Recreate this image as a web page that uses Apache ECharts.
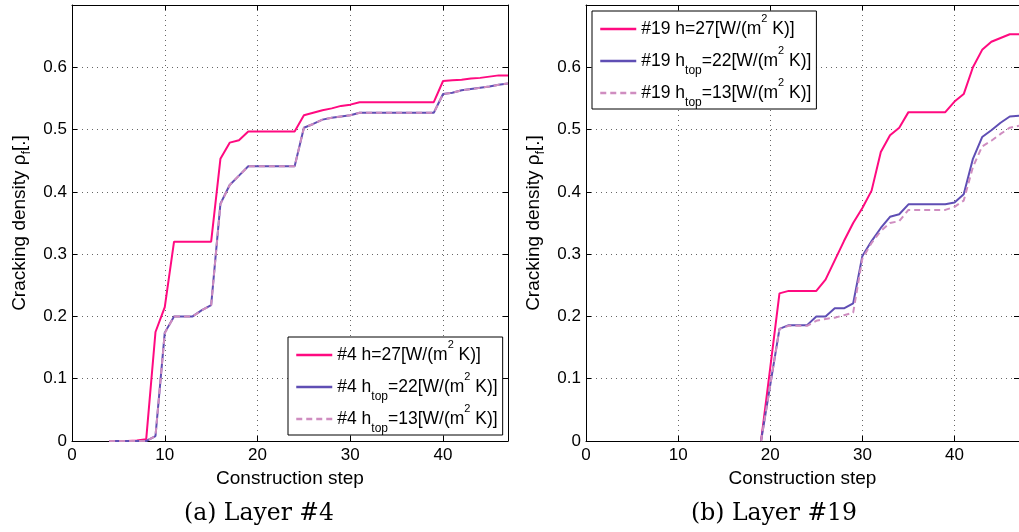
<!DOCTYPE html>
<html><head><meta charset="utf-8">
<script src="https://cdn.jsdelivr.net/npm/echarts@6/dist/echarts.min.js"></script>
<style>html,body{margin:0;padding:0;background:#fff}#c{width:1019px;height:532px}</style>
</head><body><div id="c"></div>
<script>
// ---- data ----
const stepsL = [4,5,6,7,8,9,10,11,12,13,14,15,16,17,18,19,20,21,22,23,24,25,26,27,28,29,30,31,32,33,34,35,36,37,38,39,40,41,42,43,44,45,46,47];
const L_h27 = [0,0,0,0.001,0.003,0.175,0.215,0.32,0.32,0.32,0.32,0.32,0.453,0.479,0.483,0.497,0.497,0.497,0.497,0.497,0.497,0.523,0.527,0.531,0.534,0.538,0.540,0.544,0.544,0.544,0.544,0.544,0.544,0.544,0.544,0.544,0.578,0.579,0.580,0.582,0.583,0.585,0.587,0.587];
const L_htop22 = [0,0,0,0,0,0.008,0.174,0.2,0.2,0.2,0.21,0.218,0.381,0.411,0.426,0.441,0.441,0.441,0.441,0.441,0.441,0.503,0.509,0.516,0.519,0.521,0.523,0.527,0.527,0.527,0.527,0.527,0.527,0.527,0.527,0.527,0.557,0.559,0.563,0.565,0.567,0.569,0.572,0.574];
const L_htop13 = [0,0,0,0,0,0.008,0.173,0.2,0.2,0.2,0.21,0.218,0.380,0.411,0.426,0.441,0.441,0.441,0.441,0.441,0.441,0.503,0.509,0.516,0.519,0.521,0.523,0.527,0.527,0.527,0.527,0.527,0.527,0.527,0.527,0.527,0.557,0.559,0.563,0.565,0.567,0.569,0.572,0.574];

const stepsR = [19,20,21,22,23,24,25,26,27,28,29,30,31,32,33,34,35,36,37,38,39,40,41,42,43,44,45,46,47];
const R_h27 = [0,0.118,0.237,0.241,0.241,0.241,0.241,0.259,0.29,0.321,0.35,0.374,0.402,0.464,0.491,0.503,0.528,0.528,0.528,0.528,0.528,0.545,0.557,0.6,0.628,0.641,0.647,0.653,0.653];
const R_htop22 = [0,0.09,0.18,0.186,0.186,0.186,0.2,0.2,0.213,0.213,0.221,0.297,0.321,0.342,0.36,0.364,0.38,0.38,0.38,0.38,0.38,0.383,0.396,0.453,0.488,0.499,0.511,0.521,0.522];
const R_htop13 = [0,0.09,0.18,0.185,0.185,0.185,0.193,0.196,0.198,0.202,0.206,0.293,0.318,0.337,0.35,0.353,0.371,0.371,0.371,0.371,0.371,0.376,0.386,0.44,0.473,0.482,0.493,0.503,0.506];

const namesL = ['#4 h=27[W/(m2 K)]', '#4 htop=22[W/(m2 K)]', '#4 htop=13[W/(m2 K)]'];
const namesR = ['#19 h=27[W/(m2 K)]', '#19 htop=22[W/(m2 K)]', '#19 htop=13[W/(m2 K)]'];
const legendRichL = ['#4 h=27[W/(m{sup|2} K)]', '#4 h{sub|top}=22[W/(m{sup|2} K)]', '#4 h{sub|top}=13[W/(m{sup|2} K)]'];
const legendRichR = ['#19 h=27[W/(m{sup|2} K)]', '#19 h{sub|top}=22[W/(m{sup|2} K)]', '#19 h{sub|top}=13[W/(m{sup|2} K)]'];
const xTitle = 'Construction step';
const yTitle = 'Cracking density ρ{sub|f}[.]';
const captions = ['(a) Layer #4', '(b) Layer #19'];

// ---- styles ----
const FONT = '"Liberation Sans", Arial, Helvetica, sans-serif';
const COLORS = ['#FF0A80', '#5F4EB4', '#CF8DC0'];
const richMap = {};
namesL.forEach((n,i)=>richMap[n]=legendRichL[i]);
namesR.forEach((n,i)=>richMap[n]=legendRichR[i]);

const grids = [
  {left: 72, top: 5, width: 436, height: 436},
  {left: 586, top: 5, width: 437, height: 436}
];

function xAx(g, pos) {
  const main = pos === 'bottom';
  return {
    type: 'value', gridIndex: g, position: pos, min: 0, max: 47, interval: 10,
    axisLine: {show: true, onZero: false, lineStyle: {color: '#000', width: 1}},
    axisTick: {show: true, inside: true, length: 5, lineStyle: {color: '#000'}},
    axisLabel: {show: main, showMaxLabel: false, color: '#000', fontFamily: FONT, fontSize: 17, margin: 6},
    splitLine: {show: main, lineStyle: {color: '#666', width: 1, type: [1, 4]}},
    name: main ? xTitle : '', nameLocation: 'middle', nameGap: 19,
    nameTextStyle: {color: '#000', fontFamily: FONT, fontSize: 19}
  };
}
function yAx(g, pos) {
  const main = pos === 'left';
  return {
    type: 'value', gridIndex: g, position: pos, min: 0, max: 0.7, interval: 0.1,
    axisLine: {show: true, onZero: false, lineStyle: {color: '#000', width: 1}},
    axisTick: {show: true, inside: true, length: 5, lineStyle: {color: '#000'}},
    axisLabel: {show: main, showMaxLabel: false, color: '#000', fontFamily: FONT, fontSize: 17, margin: 5},
    splitLine: {show: main, lineStyle: {color: '#666', width: 1, type: [1, 4]}},
    name: main ? yTitle : '', nameLocation: 'middle', nameGap: 39, nameRotate: 90,
    nameTextStyle: {color: '#000', fontFamily: FONT, fontSize: 19,
      rich: {sub: {fontSize: 12, fontFamily: FONT, color: '#000', verticalAlign: 'bottom', lineHeight: 12}}, lineHeight: 26}
  };
}

function mkSeries(name, xs, ys, idx, color, dashed, z) {
  return {
    type: 'line', name: name, xAxisIndex: idx, yAxisIndex: idx,
    data: xs.map((x, i) => [x, ys[i]]),
    symbol: 'none', z: z, animation: false,
    lineStyle: {color: color, width: 2, type: dashed ? [6, 4] : 'solid'},
    itemStyle: {color: color}
  };
}

function legend(names, left, top) {
  return {
    data: names, orient: 'vertical', left: left, top: top,
    backgroundColor: '#fff', borderColor: '#000', borderWidth: 1,
    padding: [2, 5, 0, 7], itemGap: 0, itemWidth: 36, itemHeight: 14,
    itemStyle: {opacity: 0},
    lineStyle: {width: 2.5},
    formatter: n => richMap[n],
    textStyle: {color: '#000', fontFamily: FONT, fontSize: 17.5, lineHeight: 32,
      rich: {
        sup: {fontSize: 11, fontFamily: FONT, color: '#000', verticalAlign: 'top', lineHeight: 24},
        sub: {fontSize: 12, fontFamily: FONT, color: '#000', verticalAlign: 'bottom', lineHeight: 14}
      }}
  };
}

const chart = echarts.init(document.getElementById('c'), null, {renderer: 'canvas'});
chart.setOption({
  animation: false,
  backgroundColor: '#fff',
  grid: grids,
  xAxis: [xAx(0, 'bottom'), xAx(1, 'bottom'), xAx(0, 'top'), xAx(1, 'top')],
  yAxis: [yAx(0, 'left'), yAx(1, 'left'), yAx(0, 'right'), yAx(1, 'right')],
  legend: [legend(namesL, 288, 337), legend(namesR, 592, 11)],
  series: [
    mkSeries(namesL[0], stepsL, L_h27, 0, COLORS[0], false, 2),
    mkSeries(namesL[1], stepsL, L_htop22, 0, COLORS[1], false, 3),
    mkSeries(namesL[2], stepsL, L_htop13, 0, COLORS[2], true, 4),
    mkSeries(namesR[0], stepsR, R_h27, 1, COLORS[0], false, 2),
    mkSeries(namesR[1], stepsR, R_htop22, 1, COLORS[1], false, 3),
    mkSeries(namesR[2], stepsR, R_htop13, 1, COLORS[2], true, 4)
  ],
  graphic: [
    {type: 'text', x: 259, y: 514, style: {text: captions[0], fill: '#000', font: '23.5px "DejaVu Serif", serif', textAlign: 'center', textVerticalAlign: 'middle'}},
    {type: 'text', x: 774, y: 514, style: {text: captions[1], fill: '#000', font: '23.5px "DejaVu Serif", serif', textAlign: 'center', textVerticalAlign: 'middle'}}
  ]
});
</script>
</body></html>
